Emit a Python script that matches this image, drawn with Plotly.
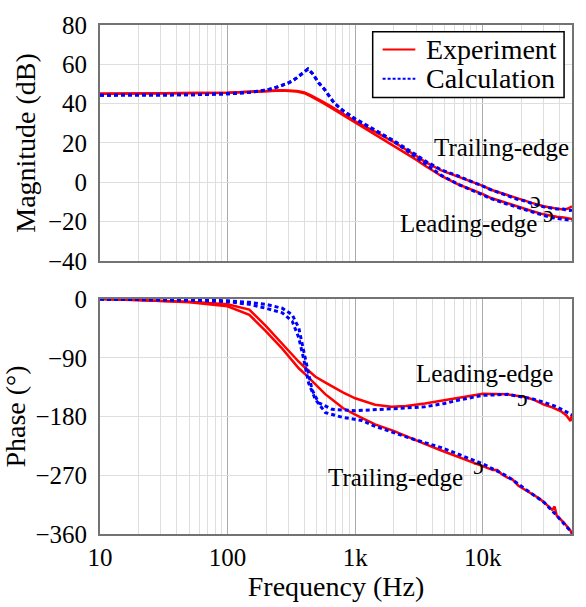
import numpy as np
import plotly.graph_objects as go
from plotly.subplots import make_subplots

# ---------------- Data ----------------
# Magnitude (dB) - experiment
f_mag_exp = [10, 20, 50, 100, 150, 200, 266, 350, 400, 450, 500, 550, 650, 800, 1000, 1500, 2000, 3000, 3500,
             4730, 6400, 10000, 11600, 15000, 18600, 21000, 24200, 30000, 34000, 38000, 43000, 46000, 50000]
mag_exp_trailing = [45.0, 45.1, 45.3, 45.6, 46.0, 46.4, 46.8, 46.4, 45.7, 44.2, 42.7, 41.2, 38.5, 35.0, 31.0, 25.0,
                    20.5, 13.5, 10.5, 6.0, 3.0, -1.8, -3.8, -6.2, -8.2, -9.0, -10.5, -12.2, -13.0, -13.4, -13.8,
                    -13.5, -12.3]
mag_exp_leading = [45.0, 45.1, 45.3, 45.6, 46.0, 46.4, 46.7, 46.2, 45.3, 43.7, 42.2, 40.6, 37.8, 34.3, 30.3, 23.5,
                   18.5, 11.5, 8.5, 3.2, -1.0, -6.0, -8.0, -10.3, -12.3, -13.4, -14.6, -16.3, -17.1, -17.5, -17.9,
                   -18.3, -18.7]

# Magnitude (dB) - calculation
f_mag_calc = [10, 20, 50, 100, 150, 196, 230, 266, 300, 340, 380, 426, 460, 519, 569, 620, 687, 800, 935, 1000,
              1500, 2000, 3000, 3500, 4730, 6400, 10000, 11600, 15000, 18600, 21000, 24200, 30000, 34000, 38000,
              43000, 46000, 50000]
mag_calc_trailing = [44.3, 44.3, 44.5, 45.0, 45.8, 46.8, 47.8, 49.3, 50.5, 52.6, 55.0, 57.6, 55.5, 50.5, 47.6, 44.0,
                     40.2, 36.5, 33.5, 32.3, 25.8, 21.2, 14.0, 11.0, 6.3, 3.2, -2.0, -3.8, -6.4, -8.6, -9.4, -10.8,
                     -12.5, -13.2, -13.6, -13.6, -14.4, -14.2]
mag_calc_leading = [44.3, 44.3, 44.5, 45.0, 45.8, 46.8, 47.8, 49.3, 50.5, 52.6, 55.0, 57.6, 55.5, 50.5, 47.6, 44.0,
                    40.2, 36.5, 33.5, 32.0, 25.6, 20.8, 12.8, 9.6, 3.5, -1.0, -6.6, -8.3, -10.8, -12.8, -13.8, -15.0,
                    -16.8, -17.9, -18.4, -18.7, -19.1, -19.5]

# Phase (deg) - experiment
f_ph_exp_lead = [10, 20, 50, 100, 148, 199, 268, 300, 361, 400, 488, 585, 659, 800, 1000, 1431, 1932, 2500, 3508,
                 5000, 6380, 10000, 15700, 21300, 25000, 30400, 35000, 41000, 45000, 48700, 50000]
ph_exp_leading = [0, -1.5, -4, -8, -16, -41, -69, -80, -96, -104, -119, -128, -134, -143, -152, -162, -165, -164,
                  -160, -155, -151, -145, -146, -150, -154, -162, -166, -172, -178, -187, -176]

f_ph_exp_trail = [10, 20, 50, 100, 148, 199, 268, 300, 361, 400, 488, 585, 659, 800, 1000, 1431, 2000, 2624, 3500,
                  4730, 7000, 10000, 11000, 12000, 13000, 14000, 15700, 17000, 19000, 21300, 25000, 28000, 30400,
                  33000, 35000, 36500, 38000, 43000, 48700, 50000]
ph_exp_trailing = [0, -1.5, -5, -11, -24, -49, -76, -87, -106, -114, -131, -146, -154, -167, -177, -192, -202, -212,
                   -222, -232, -245, -257, -259, -262, -262, -268, -274, -276, -286, -292, -300, -306, -312, -318,
                   -323, -318, -332, -342, -355, -360]

# Phase (deg) - calculation
f_ph_calc_lead = [10, 50, 100, 148, 199, 268, 321, 361, 385, 408, 432, 459, 518, 659, 1000, 1431, 2000, 3508, 5000,
                  6380, 10000, 15700, 24200, 30000, 38000, 50000]
ph_calc_leading = [0, -1, -2.5, -5, -8, -14, -24, -44, -69, -94, -119, -139, -159, -169, -171, -170, -168, -165,
                   -160, -155, -147.5, -146, -152.5, -158, -165, -177.5]

f_ph_calc_trail = [10, 50, 100, 148, 199, 268, 321, 361, 397, 432, 488, 585, 787, 1127, 1431, 2624, 4730, 10000,
                   15700, 21300, 30400, 38000, 48700, 50000]
ph_calc_trailing = [0, -1.5, -4, -8, -14, -21, -34, -59, -94, -129, -154, -174, -181, -186, -195, -212.5, -227.5,
                    -252.5, -272, -290, -312, -332, -355, -358]

x_tickvals = [10, 100, 1000, 10000, 50000]
x_ticktext = ["10", "100", "1k", "10k", "50k"]
x_minor = [20, 30, 40, 50, 60, 70, 80, 90, 200, 300, 400, 500, 600, 700, 800, 900,
           2000, 3000, 4000, 5000, 6000, 7000, 8000, 9000, 20000, 30000, 40000]
mag_ticks = [-40, -20, 0, 20, 40, 60, 80]
ph_ticks = [-360, -270, -180, -90, 0]

# ---------------- Figure ----------------
FONT = "'Liberation Serif', 'Times New Roman', serif"
RED = "#ff0000"
BLUE = "#0000ff"
W, H = 586, 607
ML, MR, MT, MB = 96, 14, 15, 72
PW, PH = W - ML - MR, H - MT - MB


def px_x(p):
    return (p - ML) / PW


def px_y(p):
    return (H - MB - p) / PH


fig = make_subplots(rows=2, cols=1, shared_xaxes=False, vertical_spacing=0.075)

red_line = dict(color=RED, width=2.5)
blue_line = dict(color=BLUE, width=3, dash="4px,3px")

fig.add_trace(go.Scatter(x=f_mag_exp, y=mag_exp_trailing, mode="lines", line=red_line, name="Experiment"), row=1, col=1)
fig.add_trace(go.Scatter(x=f_mag_exp, y=mag_exp_leading, mode="lines", line=red_line, name="Experiment"), row=1, col=1)
fig.add_trace(go.Scatter(x=f_mag_calc, y=mag_calc_trailing, mode="lines", line=blue_line, name="Calculation"), row=1, col=1)
fig.add_trace(go.Scatter(x=f_mag_calc, y=mag_calc_leading, mode="lines", line=blue_line, name="Calculation"), row=1, col=1)

fig.add_trace(go.Scatter(x=f_ph_exp_lead, y=ph_exp_leading, mode="lines", line=red_line, name="Experiment"), row=2, col=1)
fig.add_trace(go.Scatter(x=f_ph_exp_trail, y=ph_exp_trailing, mode="lines", line=red_line, name="Experiment"), row=2, col=1)
fig.add_trace(go.Scatter(x=f_ph_calc_lead, y=ph_calc_leading, mode="lines", line=blue_line, name="Calculation"), row=2, col=1)
fig.add_trace(go.Scatter(x=f_ph_calc_trail, y=ph_calc_trailing, mode="lines", line=blue_line, name="Calculation"), row=2, col=1)

xcommon = dict(type="log", range=[1, np.log10(50000)], tickmode="array", tickvals=x_tickvals,
               ticktext=x_ticktext, showgrid=True, gridcolor="#ababab", gridwidth=1,
               minor=dict(tickmode="array", tickvals=x_minor, showgrid=True, gridcolor="#dedede",
                          gridwidth=1, ticks=""),
               showline=True, linecolor="#737373", linewidth=2, mirror=True, ticks="",
               zeroline=False, tickfont=dict(size=25, family=FONT, color="black"))
fig.update_xaxes(**xcommon)
fig.update_xaxes(showticklabels=False, row=1, col=1)
fig.update_xaxes(title=dict(text="Frequency (Hz)", font=dict(size=28, family=FONT, color="black"), standoff=4),
                 row=2, col=1)

ycommon = dict(showgrid=True, gridcolor="#dedede", gridwidth=1, showline=True, linecolor="#737373",
               linewidth=2, mirror=True, ticks="", zeroline=False, ticklabelstandoff=6,
               tickfont=dict(size=25, family=FONT, color="black"))
fig.update_yaxes(**ycommon)
fig.update_yaxes(range=[-40, 80], tickmode="array", tickvals=mag_ticks,
                 title=dict(text="Magnitude (dB)", font=dict(size=28, family=FONT, color="black"), standoff=4),
                 row=1, col=1)
fig.update_yaxes(range=[-360, 0], tickmode="array", tickvals=ph_ticks,
                 title=dict(text="Phase (°)", font=dict(size=28, family=FONT, color="black"), standoff=4),
                 row=2, col=1)

fig.update_layout(
    width=W, height=H,
    margin=dict(l=ML, r=MR, t=MT, b=MB),
    plot_bgcolor="white", paper_bgcolor="white",
    font=dict(family=FONT, color="black"),
    showlegend=False,
)
fig.layout.yaxis.domain = [0.5365, 1.0]
fig.layout.yaxis2.domain = [0.0, 0.4615]

# Legend drawn by hand (box, line samples, labels)
shapes = [
    dict(type="rect", xref="paper", yref="paper", x0=px_x(371), x1=px_x(564), y0=px_y(22), y1=px_y(89),
         line=dict(color="black", width=1.5), fillcolor="white", layer="above"),
    dict(type="line", xref="paper", yref="paper", x0=px_x(381), x1=px_x(414), y0=px_y(40), y1=px_y(40),
         line=dict(color=RED, width=2), layer="above"),
    dict(type="line", xref="paper", yref="paper", x0=px_x(381), x1=px_x(414), y0=px_y(70), y1=px_y(70),
         line=dict(color=BLUE, width=2, dash="3px,2px"), layer="above"),
]
fig.update_layout(shapes=shapes)

leg_font = dict(size=28, family=FONT, color="black")
ann_font = dict(size=25, family=FONT, color="black")
arc_font = dict(size=24, family=FONT, color="black")
anns = [
    dict(x=px_x(423), y=px_y(40), xref="paper", yref="paper", text="Experiment", font=leg_font, xanchor="left"),
    dict(x=px_x(423), y=px_y(70), xref="paper", yref="paper", text="Calculation", font=leg_font, xanchor="left"),
    dict(x=4.143, y=17.8, xref="x", yref="y", text="Trailing-edge", font=ann_font),
    dict(x=3.886, y=-21.1, xref="x", yref="y", text="Leading-edge", font=ann_font),
    dict(x=4.41, y=-9.0, xref="x", yref="y", text="ɔ", font=arc_font),
    dict(x=4.515, y=-16.0, xref="x", yref="y", text="ɔ", font=arc_font),
    dict(x=4.01, y=-114, xref="x2", yref="y2", text="Leading-edge", font=ann_font),
    dict(x=3.317, y=-273, xref="x2", yref="y2", text="Trailing-edge", font=ann_font),
    dict(x=4.314, y=-152, xref="x2", yref="y2", text="ɔ", font=arc_font),
    dict(x=3.963, y=-256, xref="x2", yref="y2", text="ɔ", font=arc_font),
]
for a in anns:
    a.setdefault("xanchor", "center")
    a.update(showarrow=False, yanchor="middle")
fig.update_layout(annotations=anns)

fig.write_html("out.html")
